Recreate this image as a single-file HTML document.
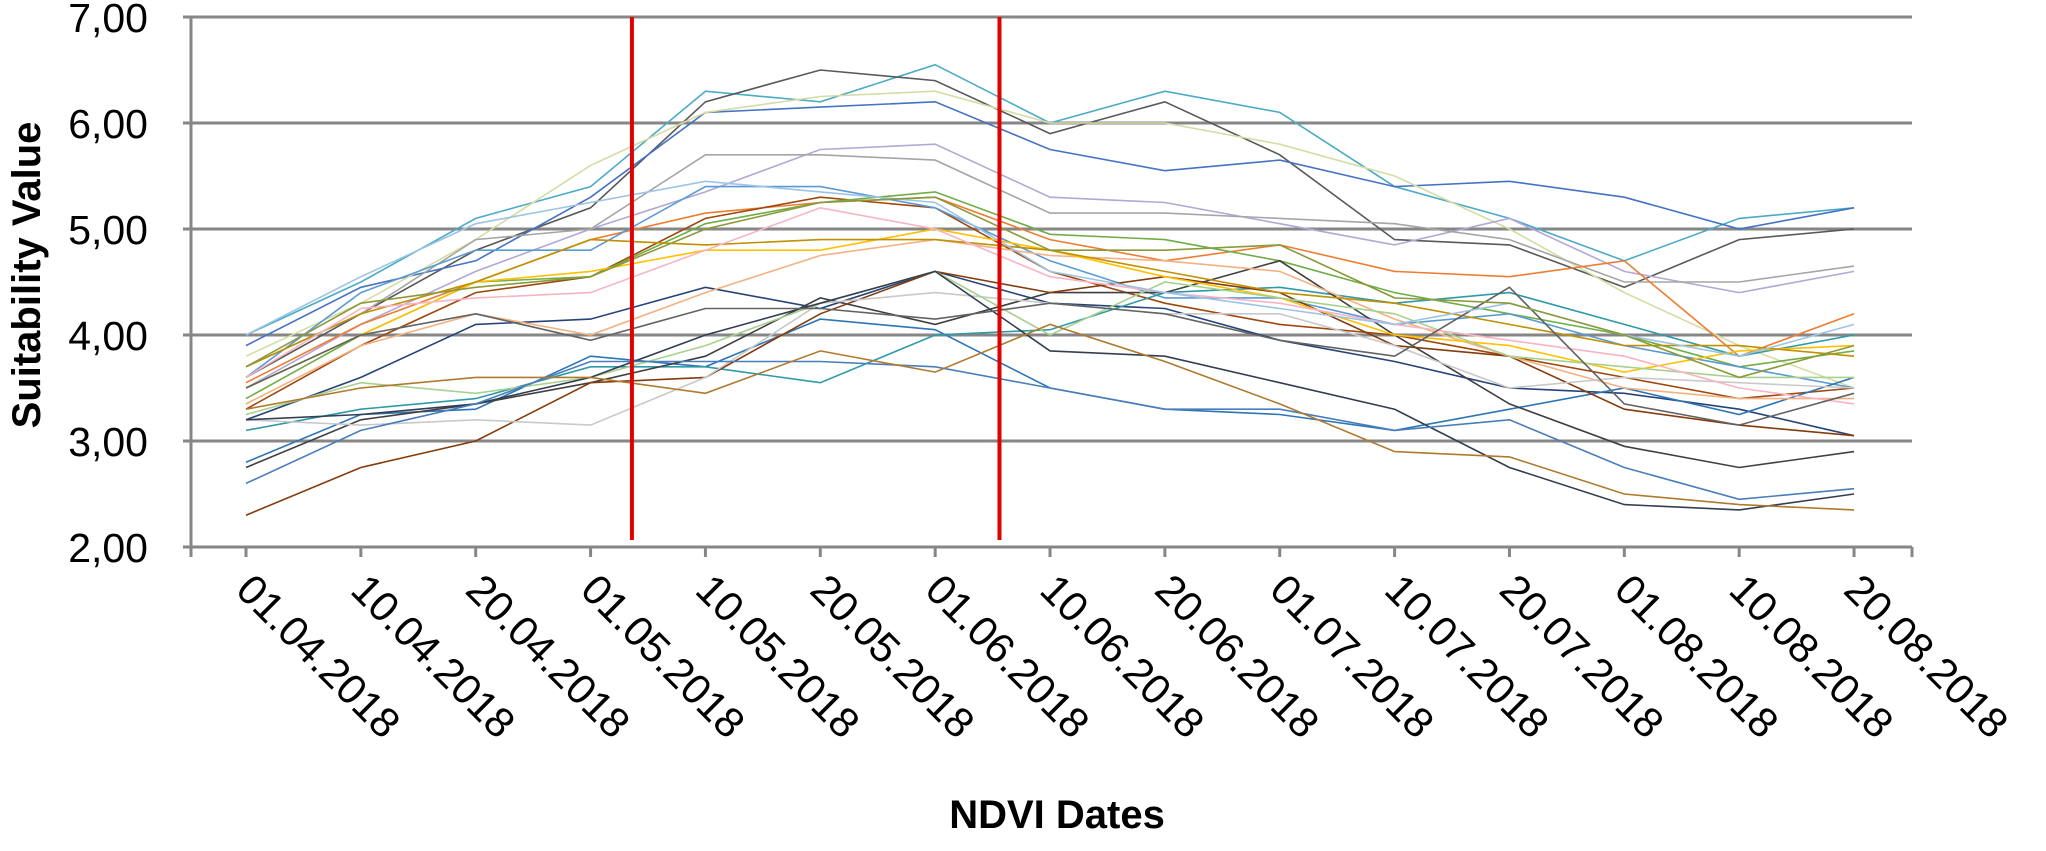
<!DOCTYPE html>
<html><head><meta charset="utf-8">
<style>
html,body{margin:0;padding:0;background:#fff;}
svg text{font-family:"Liberation Sans",sans-serif;fill:#000;}
</style></head>
<body>
<svg id="chart" width="2046" height="846" viewBox="0 0 2046 846" xmlns="http://www.w3.org/2000/svg">
<g id="grid"></g><g id="series"></g><g id="axes"></g>
</svg>
<script>
const categories=["01.04.2018","10.04.2018","20.04.2018","01.05.2018","10.05.2018","20.05.2018","01.06.2018","10.06.2018","20.06.2018","01.07.2018","10.07.2018","20.07.2018","01.08.2018","10.08.2018","20.08.2018"];
const yTicks=[2,3,4,5,6,7];
const yTickLabels=["2,00","3,00","4,00","5,00","6,00","7,00"];
const redLinePositions=[3.36,6.56];
const s1=[4.0,4.5,5.1,5.4,6.3,6.2,6.55,6.0,6.3,6.1,5.4,5.1,4.7,5.1,5.2];
const s2=[3.6,4.2,4.8,5.2,6.2,6.5,6.4,5.9,6.2,5.7,4.9,4.85,4.45,4.9,5.0];
const s3=[3.9,4.45,4.7,5.3,6.1,6.15,6.2,5.75,5.55,5.65,5.4,5.45,5.3,5.0,5.2];
const s4=[3.8,4.3,4.9,5.6,6.1,6.25,6.3,6.0,6.0,5.8,5.5,5.0,4.4,3.9,3.5];
const s5=[3.5,4.1,4.6,5.0,5.35,5.75,5.8,5.3,5.25,5.05,4.85,5.1,4.6,4.4,4.6];
const s6=[3.7,4.2,4.9,5.0,5.7,5.7,5.65,5.15,5.15,5.1,5.05,4.9,4.5,4.5,4.65];
const s7=[3.55,4.1,4.5,4.9,5.15,5.25,5.3,4.9,4.7,4.85,4.6,4.55,4.7,3.8,4.2];
const s8=[3.3,3.9,4.4,4.55,5.1,5.3,5.2,4.6,4.3,4.1,4.0,3.8,3.6,3.4,3.5];
const s9=[3.4,4.0,4.5,4.55,5.05,5.25,5.35,4.95,4.9,4.7,4.4,4.2,4.0,3.7,3.85];
const s10=[3.6,4.4,4.8,4.8,5.4,5.4,5.2,4.7,4.35,4.35,4.1,4.2,3.9,3.7,3.5];
const s11=[3.2,3.6,4.1,4.15,4.45,4.25,4.6,4.3,4.25,3.95,3.75,3.5,3.45,3.3,3.05];
const s12=[2.8,3.25,3.3,3.8,3.7,4.15,4.05,3.5,3.3,3.25,3.1,3.3,3.5,3.25,3.6];
const s13=[3.1,3.3,3.4,3.7,3.7,3.55,4.0,4.05,4.4,4.45,4.3,4.4,4.1,3.8,4.0];
const s14=[2.75,3.2,3.35,3.55,3.8,4.35,4.1,4.4,4.4,4.7,4.0,3.35,2.95,2.75,2.9];
const s15=[2.3,2.75,3.0,3.55,3.6,4.2,4.6,4.4,4.55,4.4,3.9,3.8,3.3,3.15,3.05];
const s16=[3.35,3.9,4.2,4.0,4.4,4.75,4.9,4.75,4.7,4.6,4.15,3.8,3.5,3.4,3.4];
const s17=[3.5,4.0,4.5,4.6,4.8,4.8,5.0,4.8,4.55,4.35,4.0,3.9,3.65,3.85,3.9];
const s18=[3.2,3.15,3.2,3.15,3.6,4.3,4.4,4.3,4.2,4.2,3.9,3.5,3.6,3.55,3.5];
const s19=[3.25,3.55,3.45,3.6,3.9,4.3,4.6,4.0,4.5,4.35,4.2,3.8,3.7,3.6,3.6];
const s20=[3.2,3.25,3.35,3.6,4.0,4.3,4.6,3.85,3.8,3.55,3.3,2.75,2.4,2.35,2.5];
const s21=[2.6,3.1,3.35,3.75,3.75,3.75,3.7,3.5,3.3,3.3,3.1,3.2,2.75,2.45,2.55];
const s22=[3.3,3.5,3.6,3.6,3.45,3.85,3.65,4.1,3.75,3.35,2.9,2.85,2.5,2.4,2.35];
const s23=[3.7,4.2,4.5,4.9,4.85,4.9,4.9,4.8,4.6,4.4,4.3,4.1,3.9,3.9,3.8];
const s24=[3.6,4.25,4.35,4.4,4.8,5.2,5.0,4.55,4.4,4.3,4.1,3.95,3.8,3.5,3.35];
const s25=[3.5,4.0,4.2,3.95,4.25,4.25,4.15,4.3,4.2,3.95,3.8,4.45,3.35,3.15,3.45];
const s26=[4.0,4.55,5.05,5.25,5.45,5.35,5.25,4.6,4.4,4.25,4.1,4.3,4.0,3.8,4.1];
const s27=[3.7,4.3,4.45,4.55,5.0,5.25,5.3,4.8,4.8,4.85,4.35,4.3,4.0,3.6,3.9];
const seriesList=[s1,s2,s3,s4,s5,s6,s7,s8,s9,s10,s11,s12,s13,s14,s15,s16,s17,s18,s19,s20,s21,s22,s23,s24,s25,s26,s27];
const colors=["#4bacc6","#595959","#4472c4","#d6dca4","#b4a7d6","#a5a5a5","#ed7d31","#9e480e","#70ad47","#5b9bd5","#264478","#2e75b6","#2e9aa8","#404040","#843c0c","#f4b183","#ffc000","#c9c9c9","#a9d18e","#333f50","#4a7ebb","#b07a2c","#bf9000","#f8b4c4","#636363","#9dc3e6","#8a9a3b"];
const NS="http://www.w3.org/2000/svg";
const X0=246,DX=114.86,Y7=17,PX=106,AXL=191,AXR=1912;
function xs(i){return X0+i*DX;}
function ys(v){return Y7+(7-v)*PX;}
function mk(tag,attrs,parent){const e=document.createElementNS(NS,tag);for(const k in attrs)e.setAttribute(k,attrs[k]);parent.appendChild(e);return e;}
const grid=document.getElementById('grid'),ser=document.getElementById('series'),axes=document.getElementById('axes');
yTicks.forEach((v,i)=>{
  if(v>2){const g=mk('line',{x1:AXL,x2:AXR,y1:ys(v),y2:ys(v),stroke:'#868686','stroke-width':3},grid);
  
  }
  const t=mk('text',{x:148,y:ys(v)+15,'font-size':41,'text-anchor':'end'},axes);
  t.textContent=yTickLabels[i];
  
  
  const tk=mk('line',{x1:AXL-8,x2:AXL,y1:ys(v),y2:ys(v),stroke:'#868686','stroke-width':3},axes);
  
  
});
seriesList.forEach((s,k)=>{
  const p=mk('polyline',{points:s.map((v,i)=>xs(i)+','+ys(v)).join(' '),fill:'none',stroke:colors[k%colors.length],'stroke-width':1.6},ser);
  
  
});
redLinePositions.forEach(r=>{
  const l=mk('line',{x1:xs(r),x2:xs(r),y1:Y7,y2:540,stroke:'#e00000','stroke-width':4},ser);
  
  
});
const ya=mk('line',{x1:AXL,x2:AXL,y1:Y7,y2:ys(2),stroke:'#868686','stroke-width':3},axes);


const xa=mk('line',{x1:AXL,x2:AXR,y1:ys(2),y2:ys(2),stroke:'#868686','stroke-width':3},axes);


const tickXs=[AXL].concat(categories.map((c,i)=>xs(i))).concat([AXR]);
tickXs.forEach(x=>{
  const t=mk('line',{x1:x,x2:x,y1:ys(2),y2:ys(2)+10,stroke:'#868686','stroke-width':3},axes);
  
  
});
categories.forEach((c,i)=>{
  const x=xs(i)-12,y=ys(2)+45;
  const t=mk('text',{x:x,y:y,'font-size':42,transform:'rotate(45 '+x+' '+y+')'},axes);
  t.textContent=c;
  
  
});
const yt=mk('text',{x:40,y:275,'font-size':40,'font-weight':'bold','text-anchor':'middle',transform:'rotate(-90 40 275)'},axes);
yt.textContent='Suitability Value';


const xt=mk('text',{x:1057,y:828,'font-size':40,'font-weight':'bold','text-anchor':'middle'},axes);
xt.textContent='NDVI Dates';


</script>
</body></html>
